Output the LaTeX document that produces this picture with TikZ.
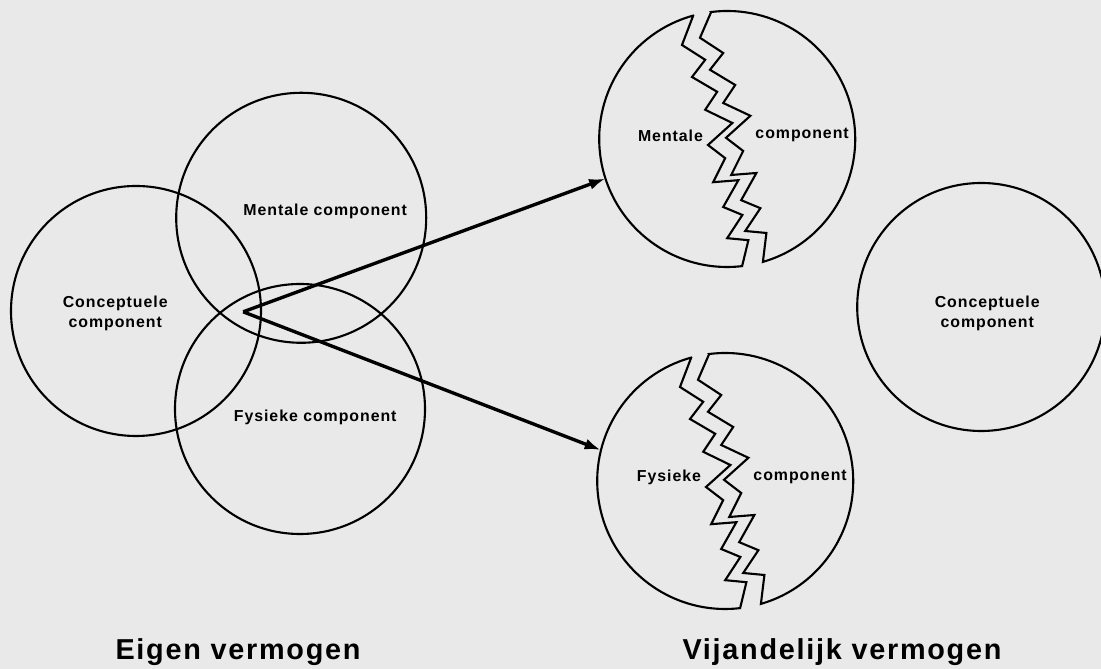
\documentclass[tikz,border=0pt]{standalone}
\usepackage{fontspec}
\usetikzlibrary{arrows.meta}
\newfontfamily\compfont{Liberation Sans}[LetterSpace=6]

\begin{document}
\begin{tikzpicture}[scale = 10]
\tikzstyle{circleStyle} = [shape = circle, minimum size = 6.25cm, inner sep = 0pt, draw, line width = 1.5pt]
\tikzstyle{brokenStyle} = [shape = circle, minimum size = 6.4cm, inner sep = 0pt]
\tikzstyle{crackStyle} = [line width = 1.5pt, line join = miter]
\tikzstyle{labelStyle} = [font = \compfont\bfseries\fontsize{11.3}{14.2}\selectfont, align = center, inner sep = 0pt]
\tikzstyle{titleStyle} = [font = \compfont\bfseries\fontsize{20.5}{24}\selectfont, anchor = base, inner sep = 0pt]
\tikzstyle{arrowStyle} = [line width = 2.4pt, -{Latex[length = 0.4cm, width = 0.28cm]}]
\path[fill = {rgb,255:red,233; green,233; blue,233}] (0,0) rectangle (2.7525,1.6725);
\useasboundingbox (0,0) rectangle (2.7525,1.6725);
% eigen vermogen
\node[circleStyle] (concC) at (0.340, 0.895) {};
\node[circleStyle] (mentC) at (0.753, 1.128) {};
\node[circleStyle] (fysC) at (0.750, 0.650) {};
\node[labelStyle] (concL) at (0.288, 0.890) {Conceptuele\\component};
\node[labelStyle] (mentL) at (0.813, 1.145) {Mentale component};
\node[labelStyle] (fysL) at (0.788, 0.630) {Fysieke component};
\coordinate (origin) at (0.608, 0.893);
% vijandelijk vermogen
\foreach \cx/\cy/\nm/\word in {1.818/1.325/mentB/Mentale, 1.813/0.470/fysB/Fysieke} {
  \node[brokenStyle] (\nm) at (\cx, \cy) {};
  \begin{scope}[shift = {(\cx, \cy)}]
  \draw[crackStyle] (105.4:0.32) -- (-0.113, 0.235) -- (-0.055, 0.198) -- (-0.088, 0.155) -- (-0.025, 0.118) -- (-0.055, 0.073) -- (0.013, 0.040) -- (-0.048, -0.015) -- (-0.005, -0.048) -- (-0.035, -0.108) -- (0.028, -0.103) -- (-0.010, -0.170) -- (0.038, -0.190) -- (0.000, -0.248) -- (0.053, -0.253) -- (276.7:0.32) arc[start angle = 276.7, end angle = 105.4, radius = 0.32] -- cycle;
  \draw[crackStyle] (97.2:0.32) -- (-0.068, 0.253) -- (-0.010, 0.215) -- (-0.043, 0.173) -- (0.020, 0.135) -- (-0.010, 0.090) -- (0.058, 0.058) -- (-0.003, 0.003) -- (0.040, -0.030) -- (0.010, -0.090) -- (0.073, -0.085) -- (0.035, -0.153) -- (0.083, -0.173) -- (0.045, -0.230) -- (0.098, -0.235) -- (286.2:0.32) arc[start angle = -73.8, end angle = 97.2, radius = 0.32] -- cycle;
  \node[labelStyle, anchor = east] (\nm-a) at (-0.060, 0.009) {\word};
  \node[labelStyle, anchor = west] (\nm-b) at (0.070, 0.009) {component};
  \end{scope}
}
\node[circleStyle, minimum size = 6.2cm] (concB) at (2.453, 0.905) {};
\node[labelStyle] (concBL) at (2.468, 0.888) {Conceptuele\\component};
\draw[arrowStyle] (origin) -- (mentB.198);
\draw[arrowStyle] (origin) -- (fysB.166);
\node[titleStyle] (ownT) at (0.595, 0.0225) {Eigen vermogen};
\node[titleStyle] (enemyT) at (2.105, 0.0225) {Vijandelijk vermogen};
\end{tikzpicture}
\end{document}
